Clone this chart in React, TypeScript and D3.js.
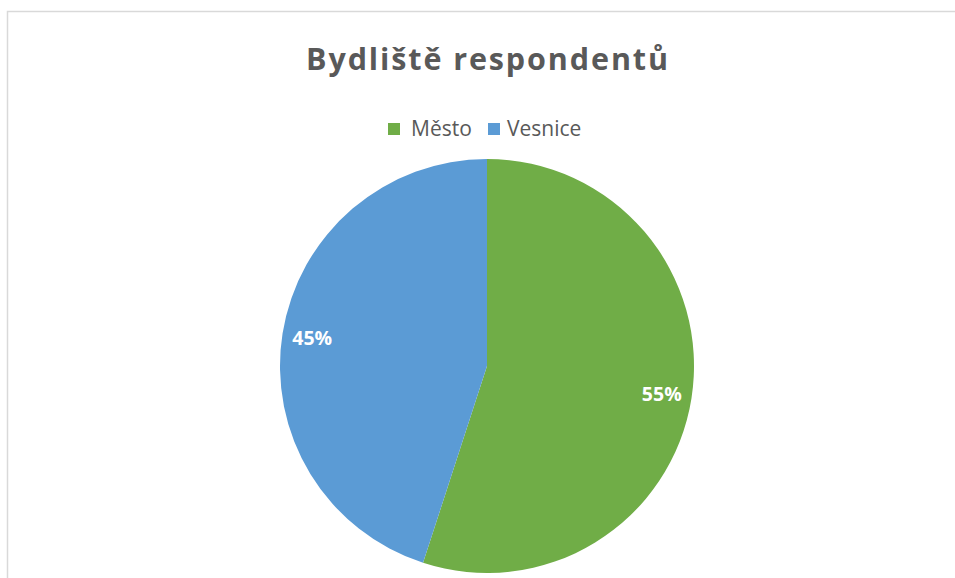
import React from "react";
import * as d3 from "d3";

const categories = ["Město", "Vesnice"];
const values = [55, 45];
const colors = ["#70AD47", "#5B9BD5"];
const title = "Bydliště respondentů";

const W = 955;
const H = 578;

export default function App() {
  const cx = 487;
  const cy = 366;
  const r = 207;
  const pie = d3.pie<number>().sort(null).value((d) => d);
  const arcs = pie(values);
  const arcGen = d3.arc<d3.PieArcDatum<number>>().innerRadius(0).outerRadius(r);
  const labelArc = d3.arc<d3.PieArcDatum<number>>().innerRadius(r * 0.855).outerRadius(r * 0.855);
  const total = d3.sum(values);
  const font = "'Open Sans', 'DejaVu Sans', sans-serif";

  const legendX = [388, 488];
  const legendTextX = [411, 507];

  return (
    <svg
      width={W}
      height={H}
      style={{ position: "fixed", left: 0, top: 0, display: "block", background: "#fff" }}
    >
      <rect x={7.5} y={11.5} width={1200} height={1200} fill="#fff" stroke="#d9d9d9" strokeWidth={1.5} />
      <text
        x={306}
        y={70}
        textLength={362}
        lengthAdjust="spacing"
        fontFamily={font}
        fontWeight={700}
        fontSize={30.5}
        fill="#595959"
      >
        {title}
      </text>
      {categories.map((c, i) => (
        <g key={c}>
          <rect x={legendX[i]} y={123} width={12} height={12} fill={colors[i]} />
          <text x={legendTextX[i]} y={135.5} fontFamily={font} fontSize={21} fill="#595959">
            {c}
          </text>
        </g>
      ))}
      <g transform={`translate(${cx},${cy})`}>
        {arcs.map((a, i) => (
          <path key={i} d={arcGen(a) || ""} fill={colors[i]} />
        ))}
        {arcs.map((a, i) => {
          const [lx, ly] = labelArc.centroid(a);
          return (
            <text
              key={"l" + i}
              x={lx}
              y={ly}
              dy="0.36em"
              textAnchor="middle"
              fontFamily={font}
              fontWeight={700}
              fontSize={19.5}
              fill="#fff"
            >
              {Math.round((values[i] / total) * 100)}%
            </text>
          );
        })}
      </g>
    </svg>
  );
}
